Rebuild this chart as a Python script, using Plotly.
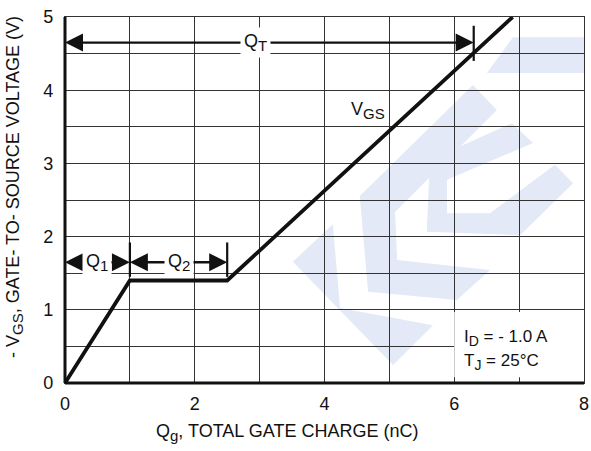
import plotly.graph_objects as go

# Gate charge characteristic
qg_nc = [0.0, 1.0, 2.5, 6.9]          # total gate charge (nC)
vgs_v = [0.0, 1.4, 1.4, 5.0]          # -VGS (V)

# Charge intervals marked on the curve
q1_span = [0.0, 1.0]
q2_span = [1.0, 2.5]
qt_span = [0.0, 6.3]
q12_level = 1.65
qt_level = 4.65

x_tick_vals = [0, 1, 2, 3, 4, 5, 6, 7, 8]
x_tick_text = ["0", "", "2", "", "4", "", "6", "", "8"]
y_tick_vals = [0, 0.5, 1, 1.5, 2, 2.5, 3, 3.5, 4, 4.5, 5]
y_tick_text = ["0", "", "1", "", "2", "", "3", "", "4", "", "5"]

FONT = "Liberation Sans, Arial, sans-serif"
INK = "#111111"
GRID = "#333333"
LOGO = "#e3e9f6"


def sub(s, px=15):
    return f"<sub><span style='font-size:{px}px'>{s}</span></sub>"


fig = go.Figure()
fig.add_trace(go.Scatter(x=qg_nc, y=vgs_v, mode="lines",
                         line=dict(color=INK, width=3.8),
                         cliponaxis=False, hoverinfo="skip"))

# faint logo drawn behind the grid (paper coordinates)
logo_polys = [
    [(0.439, 0.331), (0.516, 0.434), (0.530, 0.205), (0.709, 0.158), (0.632, 0.049)],
    [(0.568, 0.511), (0.786, 0.814), (0.832, 0.746), (0.636, 0.467), (0.640, 0.336),
     (0.819, 0.309), (0.755, 0.227), (0.584, 0.249)],
    [(0.813, 0.847), (0.863, 0.945), (1.0, 0.945), (1.0, 0.847)],
    [(0.703, 0.609), (0.861, 0.710), (0.902, 0.656), (0.736, 0.555), (0.736, 0.464),
     (0.819, 0.464), (0.944, 0.596), (0.979, 0.546), (0.877, 0.404), (0.697, 0.413)],
]
shapes = []
for poly in logo_polys:
    path = "M " + " L ".join(f"{px},{py}" for px, py in poly) + " Z"
    shapes.append(dict(type="path", path=path, xref="paper", yref="paper",
                       fillcolor=LOGO, line=dict(width=0), layer="below"))

# white panel for the test conditions
shapes.append(dict(type="rect", xref="x", yref="y", x0=6.0, x1=8.0, y0=0.08, y1=0.97,
                   fillcolor="white", line=dict(width=0), layer="above"))

# heavy left and bottom axis lines
shapes.append(dict(type="line", xref="paper", yref="paper", x0=0, x1=1, y0=0, y1=0,
                   line=dict(color=INK, width=3), layer="above"))
shapes.append(dict(type="line", xref="paper", yref="paper", x0=0, x1=0, y0=0, y1=1,
                   line=dict(color=INK, width=3), layer="above"))

# end markers of the charge intervals
for xm, y0, y1 in [(q1_span[1], 1.45, 1.92), (q2_span[1], 1.45, 1.92), (qt_span[1], 4.4, 4.88)]:
    shapes.append(dict(type="line", xref="x", yref="y", x0=xm, x1=xm, y0=y0, y1=y1,
                       line=dict(color=INK, width=2.2), layer="above"))

annotations = []


def arrow(end, start, level):
    annotations.append(dict(x=end, y=level, ax=start, ay=level, xref="x", yref="y",
                            axref="x", ayref="y", text="", showarrow=True,
                            arrowhead=2, arrowsize=1.5, arrowwidth=2.4,
                            arrowcolor=INK))


def label(text, x, y, pad=3):
    annotations.append(dict(x=x, y=y, xref="x", yref="y", text=text, showarrow=False,
                            bgcolor="white", borderpad=pad,
                            font=dict(family=FONT, size=18, color=INK)))


for span, name in ((q1_span, "Q" + sub("1")), (q2_span, "Q" + sub("2"))):
    mid = (span[0] + span[1]) / 2
    arrow(span[0], mid, q12_level)
    arrow(span[1], mid, q12_level)
    label(name, mid, q12_level)

# Q_T arrow with its label left of centre
qt_label_x = 2.93
arrow(qt_span[0], qt_label_x, qt_level)
arrow(qt_span[1], qt_label_x, qt_level)
label("Q" + sub("T"), qt_label_x, qt_level)

label("V" + sub("GS"), 4.67, 3.72, pad=2)

annotations.append(dict(x=6.12, y=0.62, xref="x", yref="y", xanchor="left", yanchor="middle",
                        text="I" + sub("D", 14) + " = - 1.0 A", showarrow=False,
                        font=dict(family=FONT, size=17, color=INK)))
annotations.append(dict(x=6.12, y=0.29, xref="x", yref="y", xanchor="left", yanchor="middle",
                        text="T" + sub("J", 14) + " = 25°C", showarrow=False,
                        font=dict(family=FONT, size=17, color=INK)))

# axis titles
annotations.append(dict(x=0.428, y=-0.134, xref="paper", yref="paper",
                        xanchor="center", yanchor="middle", showarrow=False,
                        text="Q" + sub("g") + ", TOTAL GATE CHARGE (nC)",
                        font=dict(family=FONT, size=18, color=INK)))
annotations.append(dict(x=-0.096, y=0.536, xref="paper", yref="paper",
                        xanchor="center", yanchor="middle", showarrow=False, textangle=-90,
                        text="- V" + sub("GS") + ", GATE- TO- SOURCE VOLTAGE (V)",
                        font=dict(family=FONT, size=18, color=INK)))

fig.update_layout(
    width=591, height=451,
    margin=dict(l=65, r=7, t=17, b=68),
    paper_bgcolor="white", plot_bgcolor="white",
    showlegend=False,
    shapes=shapes, annotations=annotations,
    font=dict(family=FONT, color=INK),
    xaxis=dict(range=[0, 8], tickvals=x_tick_vals, ticktext=x_tick_text, automargin=False,
               showgrid=True, gridcolor=GRID, gridwidth=1.4, zeroline=False,
               showline=True, mirror=True, linecolor=GRID, linewidth=1.4,
               ticks="", ticklabelstandoff=4,
               tickfont=dict(family=FONT, size=18, color=INK)),
    yaxis=dict(range=[0, 5], tickvals=y_tick_vals, ticktext=y_tick_text, automargin=False,
               showgrid=True, gridcolor=GRID, gridwidth=1.4, zeroline=False,
               showline=True, mirror=True, linecolor=GRID, linewidth=1.4,
               ticks="", ticklabelstandoff=7,
               tickfont=dict(family=FONT, size=18, color=INK)),
)

fig.write_html("out.html")
